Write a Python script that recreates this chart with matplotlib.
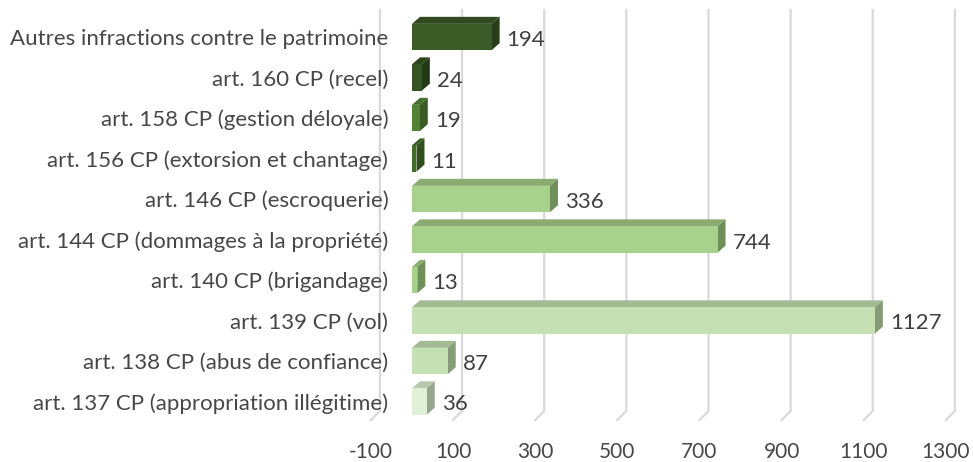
import matplotlib.pyplot as plt
from matplotlib.patches import Polygon
import numpy as np

# data, top row first
categories = [
    'Autres infractions contre le patrimoine',
    'art. 160 CP (recel)',
    'art. 158 CP (gestion déloyale)',
    'art. 156 CP (extorsion et chantage)',
    'art. 146 CP (escroquerie)',
    'art. 144 CP (dommages à la propriété)',
    'art. 140 CP (brigandage)',
    'art. 139 CP (vol)',
    'art. 138 CP (abus de confiance)',
    'art. 137 CP (appropriation illégitime)',
]
values = [194, 24, 19, 11, 336, 744, 13, 1127, 87, 36]
xticks = [-100, 100, 300, 500, 700, 900, 1100, 1300]

# front / top / side shades per bar
front_col = ['#3b5c27', '#355423', '#548235', '#436e2a', '#a9d18e',
             '#a9d18e', '#a9d18e', '#c5e0b4', '#c5e0b4', '#e2efd9']
top_col = ['#30491f', '#2c461c', '#466f2c', '#385d23', '#8aac70',
           '#8aac70', '#8aac70', '#a3bb93', '#a3bb93', '#b9c7b0']
side_col = ['#273e19', '#223817', '#3a5c24', '#2f4f1d', '#6f8f58',
            '#6f8f58', '#6f8f58', '#869c78', '#869c78', '#97a58f']

plt.rcParams['font.family'] = ['Lato', 'DejaVu Sans']

W, H = 973, 462
fig = plt.figure(figsize=(W / 100, H / 100), dpi=100)
ax_w, ax_h = 575, 410
ax = fig.add_axes([370.9 / W, 42 / H, ax_w / W, ax_h / H])
ymin, ymax = -0.457, 9.667
ax.set_xlim(-100, 1300)
ax.set_ylim(ymin, ymax)

px_x = ax_w / 1400.0
px_y = ax_h / (ymax - ymin)
bdx, bdy = 8 / px_x, 7 / px_y     # bar depth
wdx, wdy = 9 / px_x, 9 / px_y     # wall depth

# back wall gridlines + floor
for gx in xticks:
    ax.plot([gx, gx + wdx, gx + wdx], [ymin, ymin + wdy, ymax],
            color='#d9d9d9', lw=1.6, clip_on=False, zorder=0)

ypos = np.arange(len(values))[::-1]
h = 0.65
ax.barh(ypos, values, height=h, color=front_col, zorder=3)
for i, (v, y) in enumerate(zip(values, ypos)):
    yt, yb = y + h / 2, y - h / 2
    top = Polygon([(0, yt), (v, yt), (v + bdx, yt + bdy), (bdx, yt + bdy)],
                  closed=True, facecolor=top_col[i], edgecolor='none', zorder=2)
    side = Polygon([(v, yb), (v + bdx, yb + bdy), (v + bdx, yt + bdy), (v, yt)],
                   closed=True, facecolor=side_col[i], edgecolor='none', zorder=2)
    ax.add_patch(top)
    ax.add_patch(side)
    ax.annotate(str(v), (v, y), xytext=(15, -3), textcoords='offset pixels',
                ha='left', va='center', fontsize=16, color='#404040')

ax.set_yticks(ypos, categories)
ax.set_xticks(xticks, [str(t) for t in xticks])
ax.tick_params(axis='y', length=0, pad=-12.5, labelsize=16, labelcolor='#474747')
ax.tick_params(axis='x', length=0, pad=16, labelsize=15, labelcolor='#474747')
for s in ax.spines.values():
    s.set_visible(False)
ax.patch.set_visible(False)

fig.savefig('out.png', dpi=100)
